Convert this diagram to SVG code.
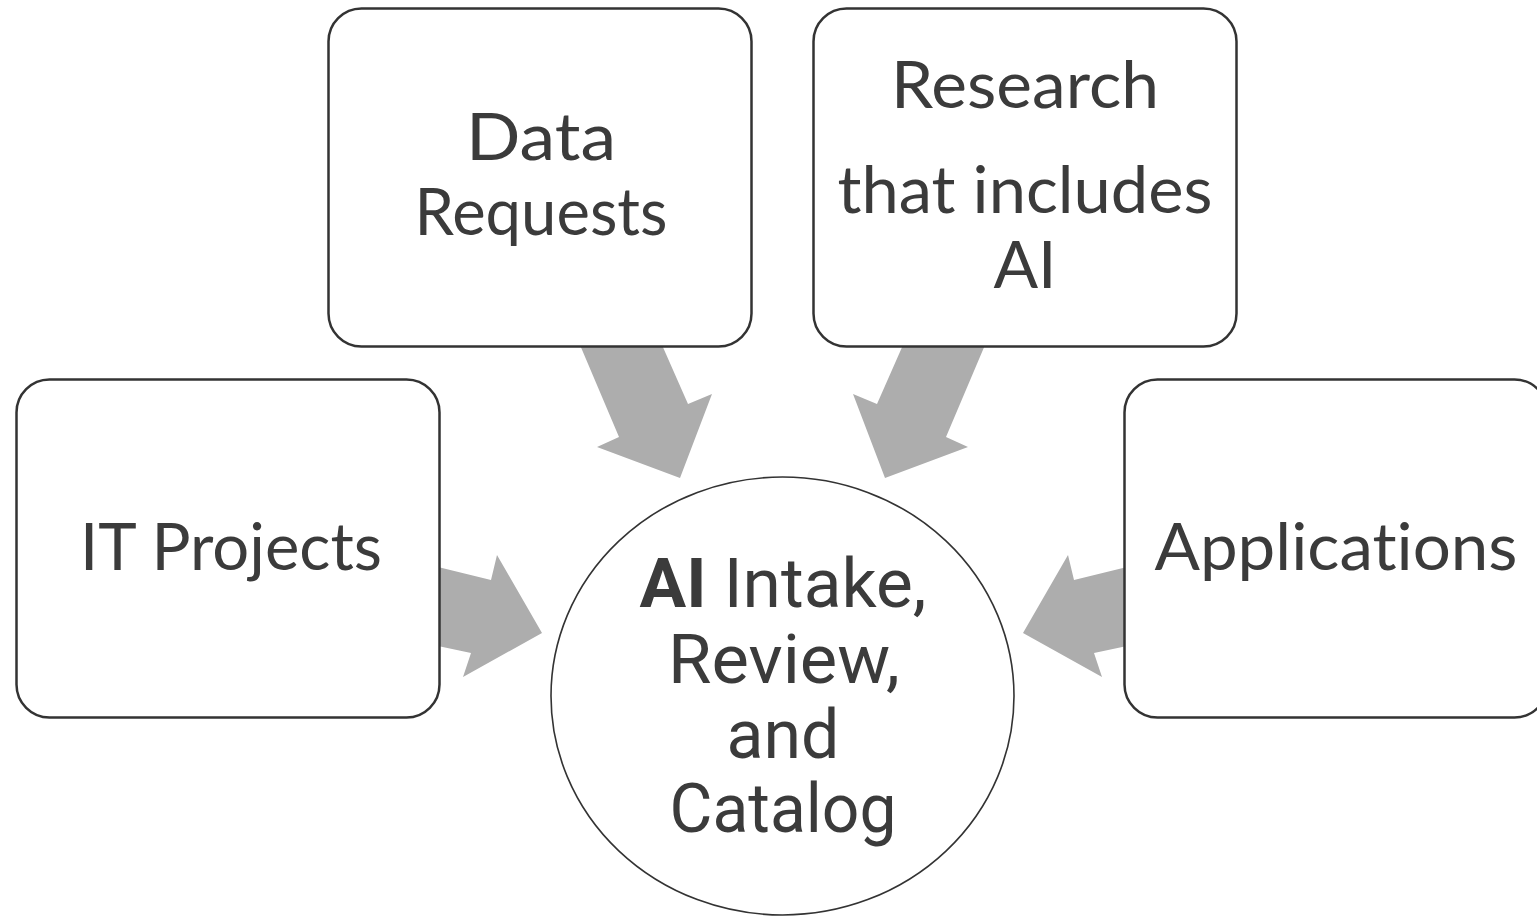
<svg xmlns="http://www.w3.org/2000/svg" width="1537" height="916" viewBox="0 0 1537 916">
  <style>
    .box { fill: #ffffff; stroke: #333333; stroke-width: 2.5; }
    .hub { fill: #ffffff; stroke: #333333; stroke-width: 1.6; }
    .flow { fill: #adadad; stroke: none; }
    .lbl { font-family: Lato, "Liberation Sans", sans-serif; font-size: 66px; fill: #3b3b3b; text-anchor: middle; font-variant-ligatures: none; }
    .hubtxt { font-family: Roboto, "Liberation Sans", sans-serif; font-size: 68px; fill: #3b3b3b; text-anchor: middle; font-variant-ligatures: none; }
  </style>
  <rect width="1537" height="916" fill="#ffffff"/>

  <!-- block arrows feeding the central review -->
  <g id="connectors">
    <polygon class="flow" points="580,345 662,345 688,404 712,394 680,478 597,447 619,437"/>
    <polygon class="flow" points="903,345 985,345 946,437 968,447 885,478 853,394 877,404"/>
    <polygon class="flow" points="438,567 491,580 497,555 542,633 463,677 471,653 438,646"/>
    <polygon class="flow" points="1127,567 1074,580 1068,555 1023,633 1102,677 1094,653 1127,646"/>
  </g>

  <g id="data-requests">
    <rect class="box" x="328.5" y="8.5" width="423" height="338" rx="33"/>
    <text class="lbl" x="541" y="160" textLength="150" lengthAdjust="spacingAndGlyphs">Data</text>
    <text class="lbl" x="541" y="235" textLength="253" lengthAdjust="spacingAndGlyphs">Requests</text>
  </g>

  <g id="research">
    <rect class="box" x="813.5" y="8.5" width="423" height="338" rx="33"/>
    <text class="lbl" x="1025" y="108" textLength="268" lengthAdjust="spacingAndGlyphs">Research</text>
    <text class="lbl" x="1025" y="213" textLength="375" lengthAdjust="spacingAndGlyphs">that includes</text>
    <text class="lbl" x="1025" y="288">AI</text>
  </g>

  <g id="it-projects">
    <rect class="box" x="16.5" y="379.5" width="423" height="338" rx="33"/>
    <text class="lbl" x="231" y="570" textLength="302" lengthAdjust="spacingAndGlyphs">IT Projects</text>
  </g>

  <g id="applications">
    <rect class="box" x="1124.5" y="379.5" width="423" height="338" rx="33"/>
    <text class="lbl" x="1336" y="570" textLength="363" lengthAdjust="spacingAndGlyphs">Applications</text>
  </g>

  <g id="ai-intake">
    <ellipse class="hub" cx="782.5" cy="696" rx="231.5" ry="219"/>
    <text class="hubtxt" x="783" y="607" textLength="287" lengthAdjust="spacingAndGlyphs"><tspan font-weight="bold">AI</tspan> Intake,</text>
    <text class="hubtxt" x="784" y="683" textLength="232" lengthAdjust="spacingAndGlyphs">Review,</text>
    <text class="hubtxt" x="783" y="758">and</text>
    <text class="hubtxt" x="783" y="832" textLength="227" lengthAdjust="spacingAndGlyphs">Catalog</text>
  </g>
</svg>
